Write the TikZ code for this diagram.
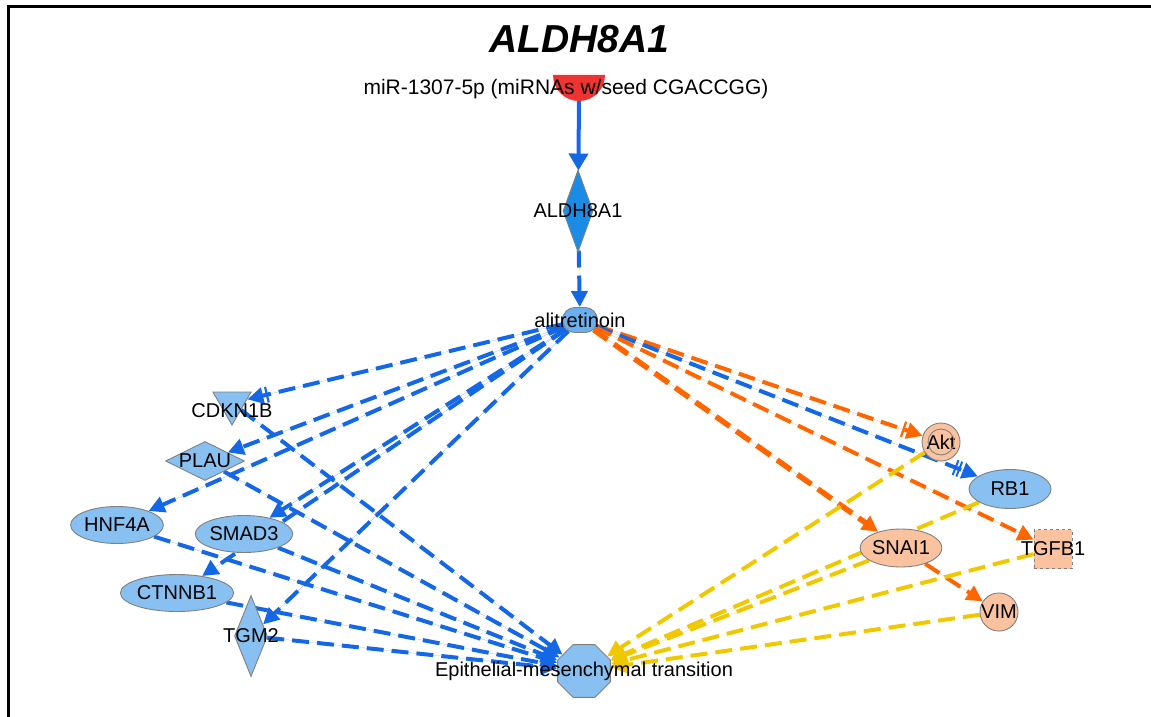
\documentclass[tikz,border=0pt]{standalone}
\usepackage{fontspec}
\setmainfont{Liberation Sans}
\usepackage{xcolor}
\usepackage{tikz}
\usetikzlibrary{shapes.geometric,shapes.misc,arrows.meta,backgrounds}
\definecolor{eblue}{HTML}{1468E6}
\definecolor{eorange}{HTML}{FF6600}
\definecolor{eyellow}{HTML}{F0C800}
\definecolor{nblue}{HTML}{88C0F2}
\definecolor{dblue}{HTML}{1A8CE6}
\definecolor{mblue}{HTML}{6AB0EE}
\definecolor{peach}{HTML}{FBC29F}
\definecolor{mred}{HTML}{EE3333}
\definecolor{rim}{HTML}{808080}
\tikzset{
  gene/.style={draw=rim, line width=0.9pt, fill=nblue, inner sep=0pt},
  oval/.style={gene, ellipse, minimum width=82pt, minimum height=37pt},
  rhomb/.style={gene, diamond, minimum width=33pt, minimum height=81pt},
  ring/.style={gene, circle, fill=peach, minimum size=38pt},
  lab/.style={text=black, font=\fontsize{20}{23}\selectfont},
  act/.style={line width=4pt, dash pattern=on 17pt off 8pt, -{Triangle[length=16pt,width=16pt]}},
  blu/.style={act, draw=eblue, fill=eblue},
  ora/.style={act, draw=eorange, fill=eorange},
  yel/.style={act, draw=eyellow, fill=eyellow},
  inh/.style={-{Bar[width=16pt,line width=2.2pt,sep=3pt] Triangle[length=16pt,width=16pt]}},
  inhh/.style={-{Bar[width=16pt,line width=2pt,sep=2pt] Bar[width=16pt,line width=2pt,sep=3pt] Triangle[length=16pt,width=16pt]}},
}
\begin{document}
\begin{tikzpicture}[x=1pt,y=-1pt]
  \useasboundingbox (0,0) rectangle (1151,717);
  \draw[line width=2.7pt] (8.7,717) -- (8.7,6.3) -- (1151,6.3);
  \node[font=\fontsize{39}{44}\selectfont\bfseries\itshape] (title) at (579,39) {ALDH8A1};

  % upstream chain
  \fill[mred] (553,75) arc (180:0:26) -- cycle;
  \coordinate (mirb) at (579,101);
  \node[lab, font=\fontsize{21}{24}\selectfont] (mir) at (566,89) {miR-1307-5p (miRNAs w/seed CGACCGG)};
  \node[rhomb, fill=dblue, minimum width=30pt, minimum height=82pt,
        label={[lab]center:ALDH8A1}] (aldh) at (578,211) {};
  \node[gene, rounded rectangle, fill=mblue, minimum width=35pt, minimum height=25pt,
        label={[lab]center:alitretinoin}] (alit) at (580,320) {};

  % left targets
  \node[gene, regular polygon, regular polygon sides=3, shape border rotate=180,
        minimum size=44pt, label={[lab,yshift=-8pt]center:CDKN1B}] (cdkn) at (232,403) {};
  \node[gene, diamond, minimum width=79pt, minimum height=39pt,
        label={[lab]center:PLAU}] (plau) at (205,461) {};
  \node[oval, lab] (hnf) at (117,525) {HNF4A};
  \node[oval, lab] (smad) at (244,534) {SMAD3};
  \node[oval, lab, minimum width=80pt] (ctnnb) at (177,593) {CTNNB1};
  \node[rhomb, label={[lab]center:TGM2}] (tgm) at (251,636) {};

  % right targets
  \node[ring, lab] (akt) at (941,442) {Akt};
  \draw[rim, line width=0.9pt] (akt) circle (13);
  \node[oval, lab, minimum height=39pt] (rb) at (1010,489) {RB1};
  \node[oval, lab, fill=peach, minimum width=81pt, minimum height=38pt] (snai) at (901,548) {SNAI1};
  \node[gene, fill=peach, dashed, minimum width=38pt, minimum height=39pt,
        label={[lab]center:TGFB1}] (tgfb) at (1053,549) {};
  \node[ring, lab] (vim) at (999,612) {VIM};

  \node[gene, regular polygon, regular polygon sides=8, minimum size=57pt,
        label={[lab]center:Epithelial-mesenchymal transition}] (emt) at (584,671) {};

  \begin{pgfonlayer}{background}
    \draw[eblue, line width=4pt, -{Triangle[length=17pt,width=19pt]}] (mirb) -- (aldh);
    \draw[blu] (aldh) -- (alit);
    \draw[blu, inh] (alit) -- (cdkn);
    \foreach \t in {plau,hnf,smad,ctnnb,tgm}
      \draw[blu] (alit) -- (\t);
    \foreach \s in {cdkn,plau,hnf,smad,ctnnb,tgm}
      \draw[blu] (\s) -- (emt);
    \draw[ora, inh] (alit) -- (akt);
    \draw[blu, inhh] (alit) -- (rb);
    \draw[ora] (alit) -- (tgfb);
    \draw[ora, line width=5.5pt] (alit) -- (snai);
    \draw[ora] (snai) -- (vim);
    \foreach \s in {akt,rb,snai,tgfb,vim}
      \draw[yel] (\s) -- (emt);
  \end{pgfonlayer}
\end{tikzpicture}
\end{document}
